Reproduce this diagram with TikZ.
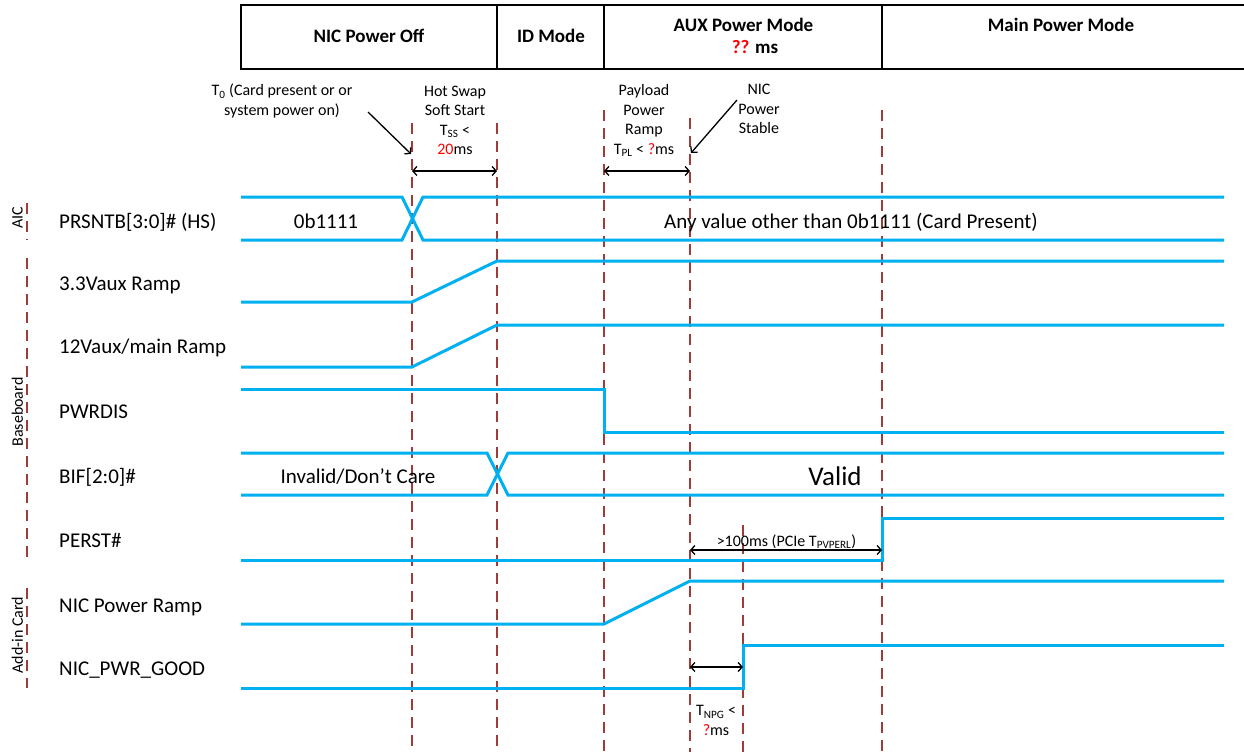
\documentclass[tikz,border=0pt]{standalone}
\usepackage{fontspec}
\setmainfont{Carlito}
\usetikzlibrary{arrows.meta}
\definecolor{sig}{RGB}{0,176,240}
\definecolor{tickc}{RGB}{160,60,55}
\definecolor{qred}{RGB}{255,0,0}
\begin{document}
\begin{tikzpicture}[x=1pt,y=-1pt,
  sigline/.style={draw=sig, line width=3pt},
  tickline/.style={draw=tickc, line width=1.8pt, dash pattern=on 11pt off 7pt},
  span/.style={draw=black, line width=1.3pt, {Straight Barb[length=4pt,width=9pt]}-{Straight Barb[length=4pt,width=9pt]}},
  pointer/.style={draw=black, line width=1.3pt, -{Straight Barb[length=4pt,width=9pt]}},
  hdr/.style={font=\fontsize{19}{23}\selectfont\bfseries, inner sep=0pt, anchor=base},
  siglabel/.style={font=\fontsize{21}{25}\selectfont, inner sep=0pt, anchor=base west},
  sigtext/.style={font=\fontsize{21}{25}\selectfont, inner sep=0pt, anchor=base},
  note/.style={font=\fontsize{16}{19.5}\selectfont, inner sep=0pt, anchor=base, align=center},
  grp/.style={font=\fontsize{16}{19}\selectfont, inner sep=0pt, rotate=90},
]
\useasboundingbox (0,0) rectangle (1244,752);

% header
\draw[line width=1.5pt] (1244,5) -- (241,5) -- (241,69) -- (1244,69);
\draw[line width=1.5pt] (497,5) -- (497,69) (604,5) -- (604,69) (882,5) -- (882,69);
\node[hdr] (hOff) at (369,43) {NIC Power Off};
\node[hdr] (hID) at (551,43) {ID Mode};
\node[hdr] (hAux) at (743.5,32) {AUX Power Mode};
\node[hdr] (hAuxT) at (755,53) {\textcolor{qred}{??} ms};
\node[hdr] (hMain) at (1061,32) {Main Power Mode};

% vertical time markers
\draw[tickline] (412,123) -- (412,752);
\draw[tickline] (497,123) -- (497,752);
\draw[tickline] (604,110) -- (604,752);
\draw[tickline] (690,118) -- (690,752);
\draw[tickline] (743,525) -- (743,752);
\draw[tickline] (882,110) -- (882,752);

% group markers
\draw[tickline] (27,203) -- (27,240);
\draw[tickline] (27,258) -- (27,562);
\draw[tickline] (27,588) -- (27,688);
\node[grp] (gAIC) at (17.5,218) {AIC};
\node[grp] (gBase) at (17.5,412) {Baseboard};
\node[grp] (gAdd) at (17.5,635) {Add-in Card};

% signal labels
\node[siglabel] (lPrs) at (59,228) {PRSNTB[3:0]\# (HS)};
\node[siglabel] (l33) at (59,290) {3.3Vaux Ramp};
\node[siglabel] (l12) at (59,353) {12Vaux/main Ramp};
\node[siglabel] (lPwr) at (59,418) {PWRDIS};
\node[siglabel] (lBif) at (59,483) {BIF[2:0]\#};
\node[siglabel] (lPer) at (59,547) {PERST\#};
\node[siglabel] (lNpr) at (59,612) {NIC Power Ramp};
\node[siglabel] (lNpg) at (59,675) {NIC\_PWR\_GOOD};

% waveforms
\draw[sigline] (241,197) -- (402,197) -- (423,240) -- (1224,240);
\draw[sigline] (241,240) -- (402,240) -- (423,197) -- (1224,197);
\node[sigtext] (vPrs0) at (326,228) {0b1111};
\node[sigtext] (vPrs1) at (851,228) {Any value other than 0b1111 (Card Present)};

\draw[sigline] (241,302) -- (412,302) -- (497,261) -- (1224,261);
\draw[sigline] (241,367) -- (412,367) -- (497,325) -- (1224,325);
\draw[sigline] (241,389) -- (604,389) -- (604,432) -- (1224,432);

\draw[sigline] (241,453) -- (487,453) -- (508,495) -- (1224,495);
\draw[sigline] (241,495) -- (487,495) -- (508,453) -- (1224,453);
\node[sigtext] (vBif0) at (358,483) {Invalid/Don’t Care};
\node[sigtext, font=\fontsize{27}{31}\selectfont] (vBif1) at (835,485) {Valid};

\draw[sigline] (241,560) -- (882,560) -- (882,518) -- (1224,518);
\draw[sigline] (241,624) -- (604,624) -- (690,581) -- (1224,581);
\draw[sigline] (241,688) -- (743,688) -- (743,645) -- (1224,645);

% annotations (anchor = baseline of the last line)
\node[note] (nT0) at (282,115) {T\textsubscript{0} (Card present or or\\system power on)};
\coordinate (pT0a) at (368,112);
\coordinate (pT0b) at (411,154);
\draw[pointer] (pT0a) -- (pT0b);

\node[note] (nHS) at (455,154.5) {Hot Swap\\Soft Start\\T\textsubscript{SS} <\\\textcolor{qred}{20}ms};
\coordinate (sHSa) at (412,171);
\coordinate (sHSb) at (497,171);
\draw[span] (sHSa) -- (sHSb);

\node[note] (nPL) at (644,154) {Payload\\Power\\Ramp\\T\textsubscript{PL} < \textcolor{qred}{?}ms};
\coordinate (sPLa) at (604,171);
\coordinate (sPLb) at (690,171);
\draw[span] (sPLa) -- (sPLb);

\node[note] (nNS) at (759,133.5) {NIC\\Power\\Stable};
\coordinate (pNSa) at (737,100);
\coordinate (pNSb) at (691,153);
\draw[pointer] (pNSa) -- (pNSb);

\node[note] (nPV) at (786.5,546) {>100ms (PCIe T\textsubscript{PVPERL})};
\coordinate (sPVa) at (690,550);
\coordinate (sPVb) at (882,550);
\draw[span] (sPVa) -- (sPVb);

\coordinate (sNPa) at (690,667);
\coordinate (sNPb) at (743,667);
\draw[span] (sNPa) -- (sNPb);
\node[note] (nNP) at (716,735) {T\textsubscript{NPG} <\\\textcolor{qred}{?}ms};
\end{tikzpicture}
\end{document}
